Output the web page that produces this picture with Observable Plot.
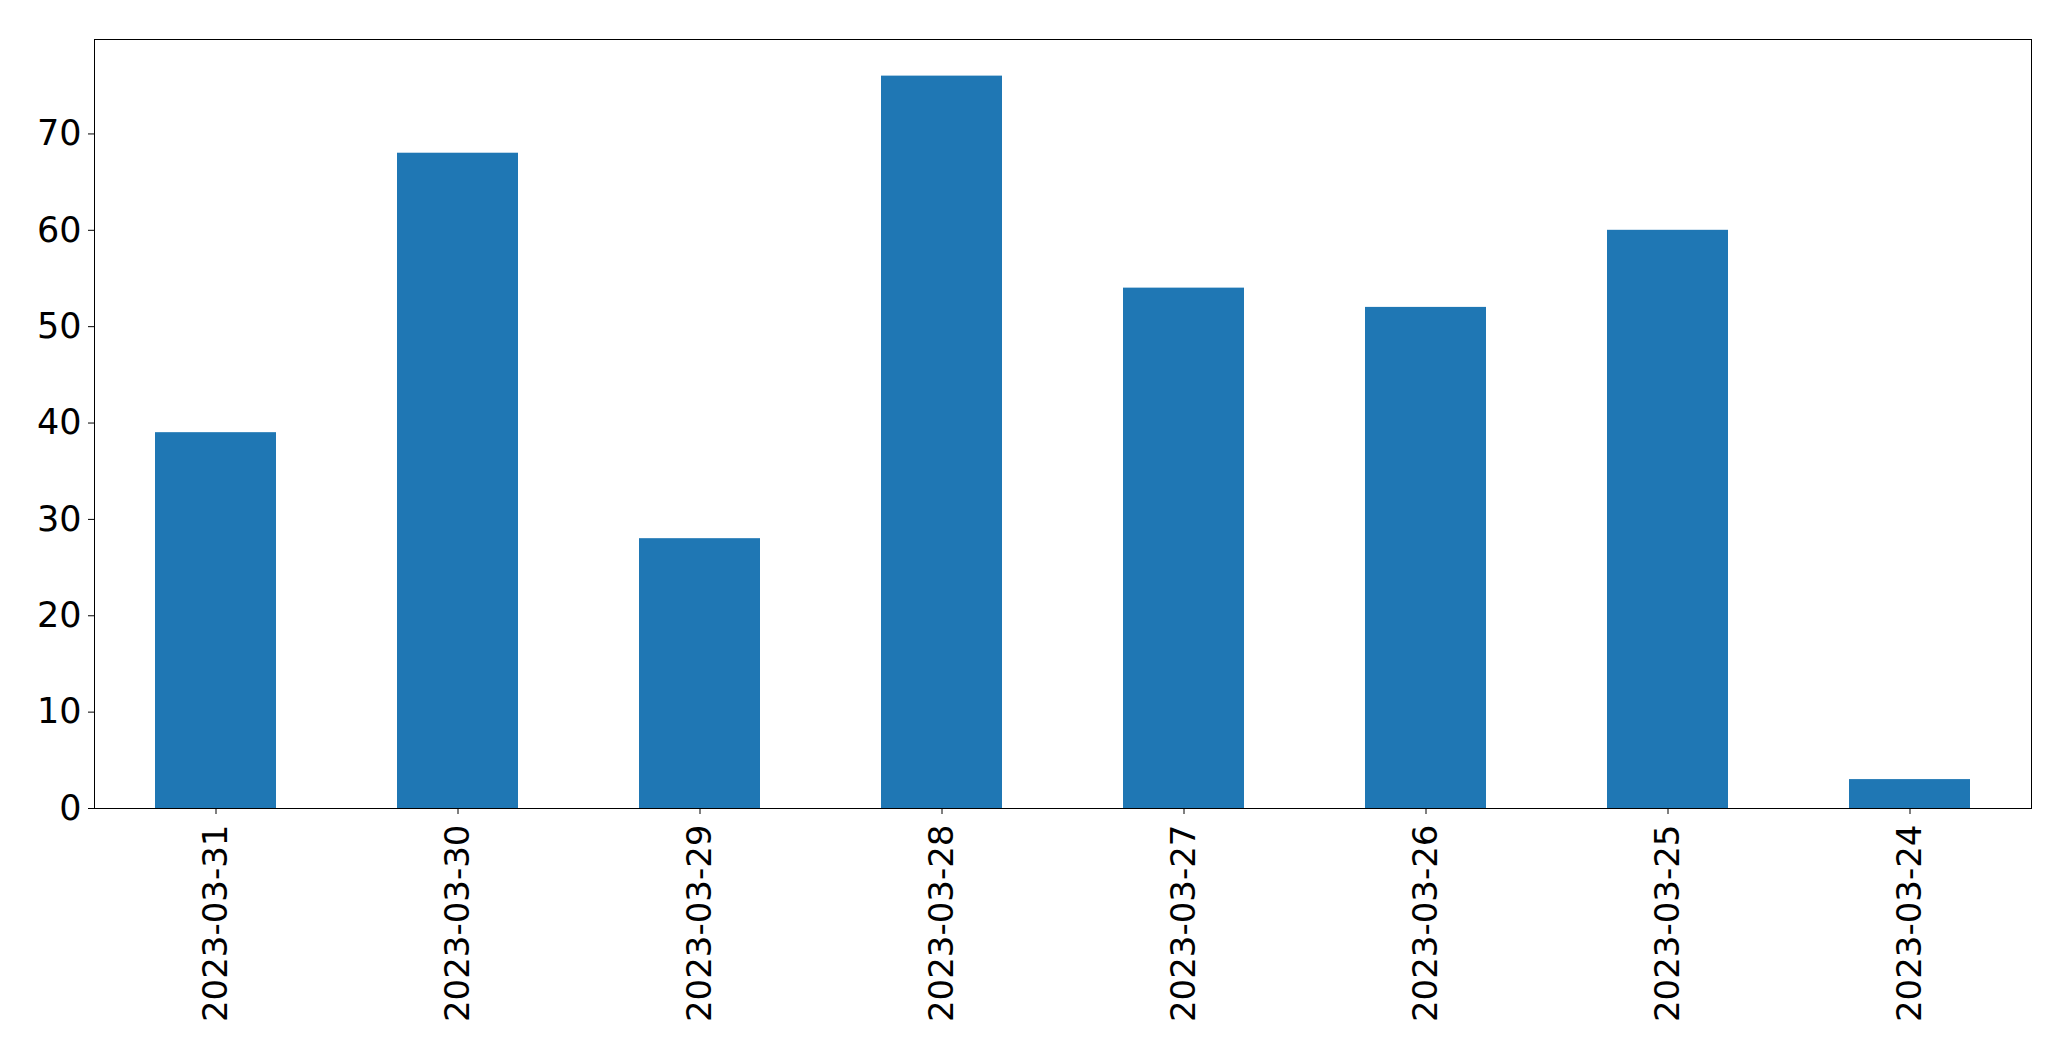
<!DOCTYPE html>
<html>
<head>
<meta charset="utf-8">
<script src="https://cdn.jsdelivr.net/npm/d3@7"></script>
<script src="https://cdn.jsdelivr.net/npm/@observablehq/plot@0.6"></script>
<style>
  html, body { margin: 0; padding: 0; background: #fff; }
  svg { display: block; }
</style>
</head>
<body>
<div id="chart"></div>
<script>
const dates = ["2023-03-31", "2023-03-30", "2023-03-29", "2023-03-28", "2023-03-27", "2023-03-26", "2023-03-25", "2023-03-24"];
const counts = [39, 68, 28, 76, 54, 52, 60, 3];
const yTicks = [0, 10, 20, 30, 40, 50, 60, 70];

const data = dates.map((d, i) => ({date: d, count: counts[i]}));

const chart = Plot.plot({
  width: 2071,
  height: 1061,
  marginLeft: 94,
  marginRight: 40,
  marginTop: 39,
  marginBottom: 253,
  style: {fontFamily: "DejaVu Sans", fontSize: "34px", color: "#000", background: "#fff"},
  x: {domain: dates, type: "band", paddingInner: 0.5, paddingOuter: 0.25, align: 0.5, label: null},
  y: {domain: [0, 79.8], label: null},
  marks: [
    Plot.barY(data, {x: "date", y: "count", fill: "#1f77b4"}),
    Plot.axisY({ticks: yTicks, tickSize: 6, tickPadding: 7, label: null, fontSize: 35, stroke: "#000", strokeWidth: 1}),
    Plot.axisX({tickSize: 6, tickPadding: 10, tickRotate: -90, label: null, fontSize: 34, stroke: "#000", strokeWidth: 1}),
    Plot.frame({stroke: "#000", strokeWidth: 1})
  ]
});
document.getElementById("chart").appendChild(chart);
</script>
</body>
</html>
